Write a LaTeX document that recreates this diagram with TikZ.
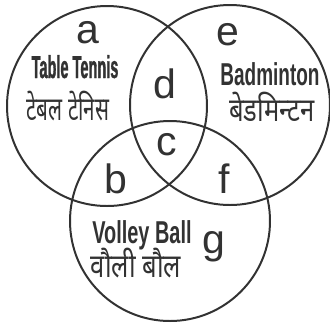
\documentclass[tikz,border=0pt]{standalone}
\usepackage{fontspec}
\setmainfont{Liberation Sans}
\newfontfamily\ttfont[FakeStretch=0.46,FakeBold=1]{Liberation Sans}
\newfontfamily\bdfont[FakeStretch=0.6]{Liberation Sans}
\newfontfamily\vbfont[FakeStretch=0.63]{Liberation Sans}
\newfontfamily\tthindi[Script=Devanagari,FakeStretch=0.63]{Noto Sans}
\newfontfamily\hindifont[Script=Devanagari,FakeStretch=0.78]{Noto Sans}
\definecolor{ink}{RGB}{50,50,50}

\begin{document}
\begin{tikzpicture}[x=0.03cm,y=-0.03cm,line width=1.7pt,
  letter/.style={anchor=base,inner sep=0pt,text=ink,font=\fontsize{35}{35}\selectfont},
  sport/.style={anchor=base,inner sep=0pt,text=ink,font=\bfseries\fontsize{27}{27}\selectfont},
  hindi/.style={anchor=base,inner sep=0pt,text=ink,font=\hindifont\fontsize{28}{28}\selectfont}]
 \useasboundingbox (0,0) rectangle (330,327);
 % the three sets
 \foreach \x/\y/\n in {107/106/tt, 230/105/bd, 170/221/vb}{
   \draw[ink] (\x,\y) circle[radius=100];
   \coordinate (\n) at (\x,\y);
 }
 % regions
 \foreach \x/\y/\t in {88/43/a, 116/193/b, 167/155/c, 165/98/d, 228/45/e, 224/193/f, 214/253/g}{
   \node[letter] (\t) at (\x,\y) {\t};
 }
 % Table Tennis
 \node[sport] (ttname) at (75,78) {\ttfont Table Tennis};
 \node[hindi] (tthindi) at (68,120) {\tthindi टेबल टेनिस};
 % Badminton
 \node[sport] (bdname) at (270,85) {\bdfont Badminton};
 \node[hindi] (bdhindi) at (272,121) {बेडमिन्टन};
 % Volley Ball
 \node[sport] (vbname) at (142,243) {\vbfont Volley Ball};
 \node[hindi] (vbhindi) at (136,277) {वौली बौल};
\end{tikzpicture}
\end{document}
